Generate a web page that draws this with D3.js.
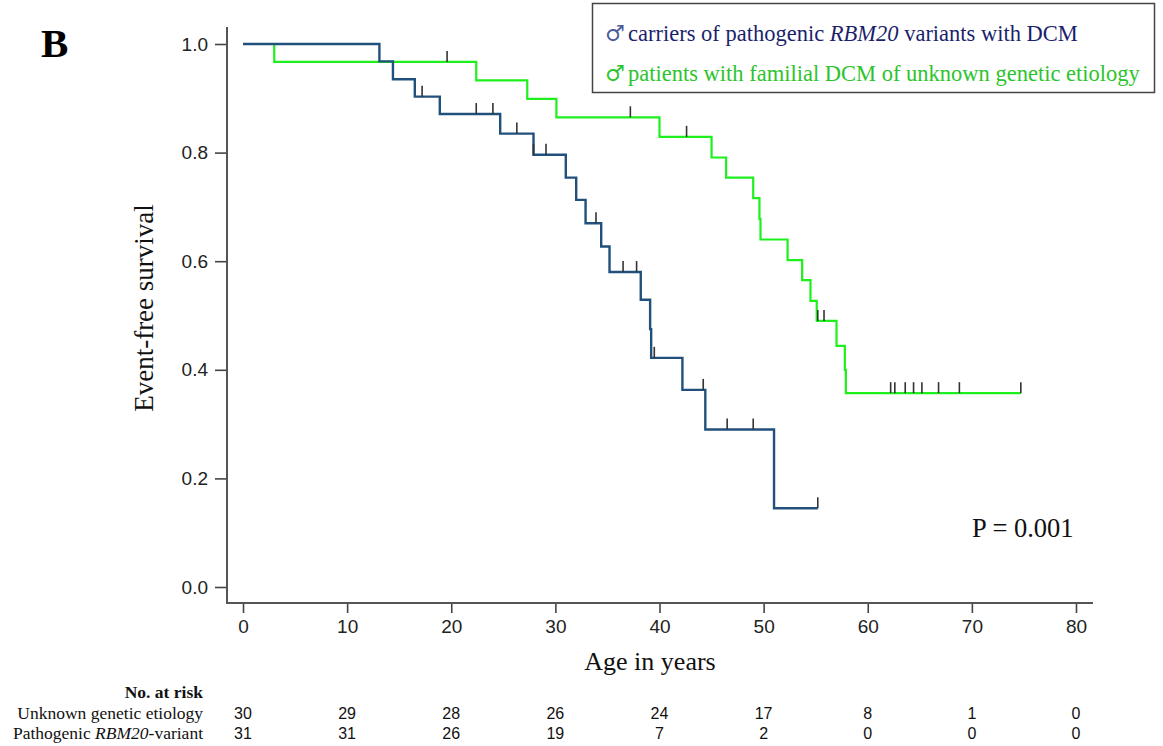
<!DOCTYPE html>
<html>
<head>
<meta charset="utf-8">
<script src="https://cdn.jsdelivr.net/npm/d3@7"></script>
<style>
  body { margin: 0; background: #fff; }
  svg { display: block; }
</style>
</head>
<body>
<div id="chart"></div>
<script>
// tempos de evento e sobrevida (Kaplan-Meier)
const rbmTimes = [0, 13.1, 14.4, 16.5, 18.9, 24.7, 27.9, 31.0, 32.0, 32.9, 34.4, 35.2, 38.2, 39.1, 39.2, 42.2, 44.4, 51.0];
const rbmSurv  = [1.0, 0.968, 0.935, 0.903, 0.871, 0.835, 0.796, 0.754, 0.713, 0.670, 0.627, 0.580, 0.529, 0.475, 0.422, 0.363, 0.290, 0.145];
const rbmEnd = 55.2;
const rbmCensor = [17.2, 22.4, 24.0, 26.3, 27.9, 29.1, 33.9, 36.5, 37.8, 39.5, 44.2, 46.5, 49.0, 55.2];

const unkTimes = [0, 3.0, 22.4, 27.3, 30.1, 40.0, 45.0, 46.4, 49.0, 49.6, 49.7, 52.3, 53.7, 54.5, 55.1, 57.0, 57.8, 57.9];
const unkSurv  = [1.0, 0.967, 0.933, 0.899, 0.865, 0.829, 0.791, 0.754, 0.716, 0.678, 0.640, 0.602, 0.565, 0.527, 0.490, 0.444, 0.400, 0.357];
const unkEnd = 74.7;
const unkCensor = [19.6, 37.2, 42.6, 55.2, 55.8, 62.2, 62.6, 63.6, 64.4, 65.2, 66.8, 68.8, 74.7];

// tabela de numero em risco
const xTicks = [0, 10, 20, 30, 40, 50, 60, 70, 80];
const yTicks = [0, 0.2, 0.4, 0.6, 0.8, 1.0];
const riskUnknown = [30, 29, 28, 26, 24, 17, 8, 1, 0];
const riskRbm = [31, 31, 26, 19, 7, 2, 0, 0, 0];

const width = 1163;
const height = 746;

const blue = "#22507c";
const green = "#1ef01e";
const serif = "'Liberation Serif', 'Times New Roman', serif";
const sans = "'Liberation Sans', Arial, sans-serif";

const svg = d3.select("#chart").append("svg")
    .attr("width", width)
    .attr("height", height);

const x = d3.scaleLinear().domain([0, 80]).range([243, 1076]);
const y = d3.scaleLinear().domain([0, 1]).range([587, 44]);

const axisX0 = 227;  // posicao do eixo y
const axisY0 = 603;  // posicao do eixo x

// eixo y
const gy = svg.append("g")
    .attr("transform", `translate(${axisX0},0)`)
    .call(d3.axisLeft(y).tickValues(yTicks).tickFormat(d3.format(".1f")).tickSize(12).tickPadding(7));
gy.select(".domain").remove();

// eixo x
const gx = svg.append("g")
    .attr("transform", `translate(0,${axisY0})`)
    .call(d3.axisBottom(x).tickValues(xTicks).tickSize(10).tickPadding(7));
gx.select(".domain").remove();

[gx, gy].forEach(g => {
    g.selectAll(".tick line").attr("stroke", "#444").attr("stroke-width", 1.6);
    g.selectAll(".tick text")
        .attr("font-family", sans)
        .attr("font-size", 19)
        .attr("fill", "#222");
});

// linhas dos eixos em L
svg.append("path")
    .attr("d", `M${axisX0},27 V${axisY0} H1093`)
    .attr("fill", "none")
    .attr("stroke", "#555")
    .attr("stroke-width", 2);

// curva em degraus
function stepPath(times, surv, end) {
    const pts = times.map((t, i) => [t, surv[i]]);
    pts.push([end, surv[surv.length - 1]]);
    return d3.line()
        .x(d => x(d[0]))
        .y(d => y(d[1]))
        .curve(d3.curveStepAfter)(pts);
}

function survAt(times, surv, t) {
    let s = surv[0];
    for (let i = 0; i < times.length; i++) {
        if (times[i] <= t) s = surv[i];
    }
    return s;
}

function drawCurve(times, surv, end, censor, color, w) {
    svg.append("path")
        .attr("d", stepPath(times, surv, end))
        .attr("fill", "none")
        .attr("stroke", color)
        .attr("stroke-width", w);

    svg.append("g").selectAll("line")
        .data(censor)
        .join("line")
        .attr("x1", d => x(d))
        .attr("x2", d => x(d))
        .attr("y1", d => y(survAt(times, surv, d)))
        .attr("y2", d => y(survAt(times, surv, d)) - 11)
        .attr("stroke", "#333")
        .attr("stroke-width", 1.6);
}

drawCurve(unkTimes, unkSurv, unkEnd, unkCensor, green, 2.2);
drawCurve(rbmTimes, rbmSurv, rbmEnd, rbmCensor, blue, 2.4);

// rotulos dos eixos
svg.append("text")
    .attr("x", 650).attr("y", 670)
    .attr("text-anchor", "middle")
    .attr("font-family", serif)
    .attr("font-size", 26)
    .attr("fill", "#111")
    .text("Age in years");

svg.append("text")
    .attr("transform", "translate(153,308) rotate(-90)")
    .attr("text-anchor", "middle")
    .attr("font-family", serif)
    .attr("font-size", 27)
    .attr("fill", "#111")
    .text("Event-free survival");

// letra do painel
svg.append("text")
    .attr("x", 41).attr("y", 57)
    .attr("font-family", serif)
    .attr("font-weight", "bold")
    .attr("font-size", 41)
    .attr("fill", "#000")
    .text("B");

// valor de p
svg.append("text")
    .attr("x", 972).attr("y", 537)
    .attr("font-family", serif)
    .attr("font-size", 26.5)
    .attr("fill", "#111")
    .text("P = 0.001");

// legenda
svg.append("rect")
    .attr("x", 592.5).attr("y", 3.5)
    .attr("width", 562).attr("height", 89)
    .attr("fill", "#fff")
    .attr("stroke", "#444")
    .attr("stroke-width", 1.5);

const legendRows = [
    { y: 41, color: "#1b1f6c", sym: "#4a5a9a" },
    { y: 81, color: "#2cc42c", sym: "#2cc42c" }
];

legendRows.forEach((r, i) => {
    svg.append("text")
        .attr("x", 605).attr("y", r.y)
        .attr("font-family", "'DejaVu Serif', serif")
        .attr("font-size", 22)
        .attr("fill", r.sym)
        .text("\u2642");
    const t = svg.append("text")
        .attr("x", 628).attr("y", r.y)
        .attr("font-family", serif)
        .attr("font-size", 22.5)
        .attr("fill", r.color);
    if (i === 0) {
        t.append("tspan").text("carriers of pathogenic ");
        t.append("tspan").attr("font-style", "italic").text("RBM20");
        t.append("tspan").text(" variants with DCM");
    } else {
        t.text("patients with familial DCM of unknown genetic etiology");
    }
});

// tabela de numero em risco
svg.append("text")
    .attr("x", 203).attr("y", 698)
    .attr("text-anchor", "end")
    .attr("font-family", serif)
    .attr("font-weight", "bold")
    .attr("font-size", 17.5)
    .attr("fill", "#111")
    .text("No. at risk");

svg.append("text")
    .attr("x", 203).attr("y", 719)
    .attr("text-anchor", "end")
    .attr("font-family", serif)
    .attr("font-size", 17.5)
    .attr("fill", "#111")
    .text("Unknown genetic etiology");

const lbl2 = svg.append("text")
    .attr("x", 203).attr("y", 739)
    .attr("text-anchor", "end")
    .attr("font-family", serif)
    .attr("font-size", 17.5)
    .attr("fill", "#111");
lbl2.append("tspan").text("Pathogenic ");
lbl2.append("tspan").attr("font-style", "italic").text("RBM20");
lbl2.append("tspan").text("-variant");

[[riskUnknown, 719], [riskRbm, 739]].forEach(([vals, yy]) => {
    svg.append("g").selectAll("text")
        .data(vals)
        .join("text")
        .attr("x", (d, i) => x(xTicks[i]))
        .attr("y", yy)
        .attr("text-anchor", "middle")
        .attr("font-family", sans)
        .attr("font-size", 16)
        .attr("fill", "#111")
        .text(d => d);
});
</script>
</body>
</html>
